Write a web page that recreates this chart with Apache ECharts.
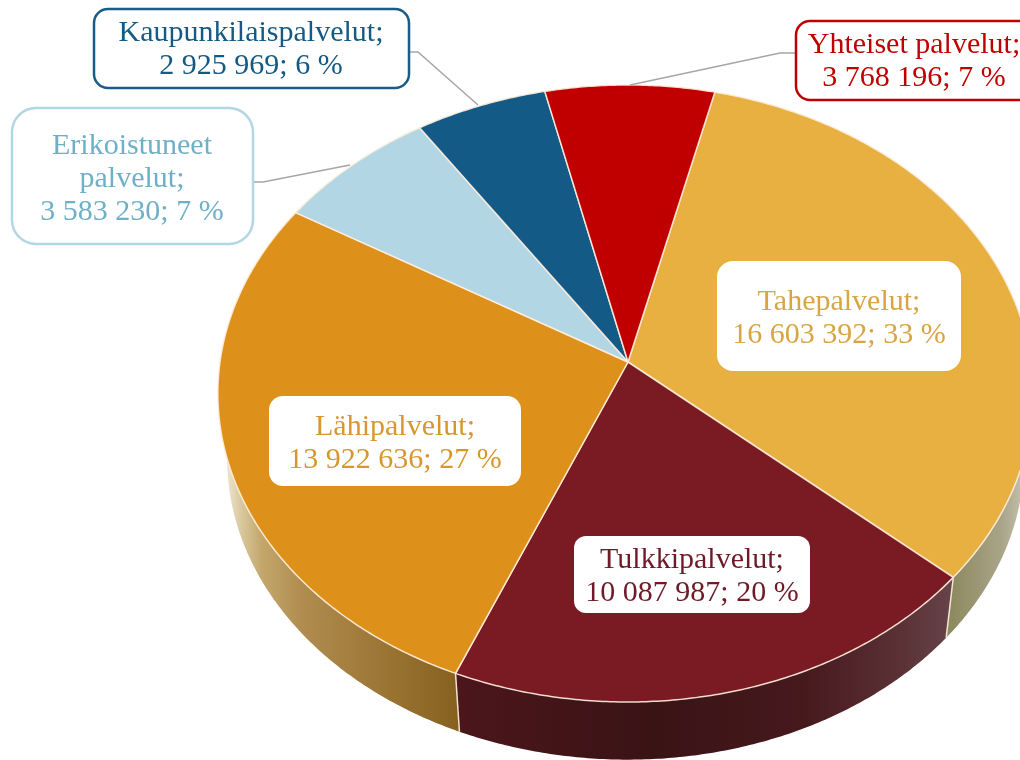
<!DOCTYPE html>
<html><head><meta charset="utf-8">
<style>html,body{margin:0;padding:0;background:#fff}#c{width:1020px;height:760px}</style>
<script src="https://cdn.jsdelivr.net/npm/echarts@6/dist/echarts.min.js"></script>
</head><body><div id="c"></div>
<script>
const categories = ['Tahepalvelut','Tulkkipalvelut','Lähipalvelut','Erikoistuneet\npalvelut','Kaupunkilaispalvelut','Yhteiset palvelut'];
const seriesValues = [16603392,10087987,13922636,3583230,2925969,3768196];
const percents = [33,20,27,7,6,7];

const faceColors = ['#E8B040','#7A1A22','#DE911A','#B3D6E5','#145A86','#C00000'];
const textColors = ['#D9A544','#6E1A28','#D8972C','#6FB0C8','#145A82','#C00000'];
const sideStops = [
  [[0,'#8e8a60'],[0.75,'#8e8a60'],[0.9,'#a8a488'],[1,'#d0ccbc']],
  [[0,'#4b161c'],[0.4,'#3a1315'],[0.7,'#46191d'],[0.9,'#5c3236'],[1,'#65444a']],
  [[0,'#f0e8d4'],[0.03,'#f0e8d4'],[0.10,'#d8c69c'],[0.18,'#c4a76c'],[0.35,'#b08c50'],[0.75,'#96712f'],[1,'#85601f']],
  [[0,'#b3d6e5'],[1,'#b3d6e5']],[[0,'#145a86'],[1,'#145a86']],[[0,'#c00000'],[1,'#c00000']]
];
// label layout: box x, y, w, h, radius, border color, text centre, leader line
const boxes = [
  {x:717,y:261,w:244,h:110,r:16,cx:839,cy:319},
  {x:574,y:536,w:236,h:77,r:12,cx:692,cy:577},
  {x:269,y:396,w:252,h:90,r:14,cx:395,cy:444},
  {x:12,y:108,w:241,h:136,r:24,border:'#B3D6E5',cx:132,cy:179,leader:[[254,182],[263,182],[350,165]]},
  {x:94,y:9,w:315,h:79,r:14,border:'#1A5C85',cx:251,cy:50,leader:[[410,52],[418,52],[478,105]]},
  {x:796,y:21,w:240,h:79,r:14,border:'#C00000',cx:914,cy:62,leader:[[795,53],[780,53],[630,85]]}
];

const CX=628, CY=362, A=305.3, B_LEFT=408, B_RIGHT=403, K=0.102, START=13.7;
const VPX=632, VPY=3300, SHRINK=0.0222;
const total = seriesValues.reduce((a,b)=>a+b,0);
const SEAM='rgba(255,238,222,0.9)';

function proj(deg){
  const a=deg*Math.PI/180, u=Math.sin(a), v=-Math.cos(a), d=1-K*v;
  return [CX+(u>0?B_RIGHT:B_LEFT)*u/d, CY+A*v/d];
}
function lower(p){ return [p[0]+(VPX-p[0])*SHRINK, p[1]+(VPY-p[1])*SHRINK]; }
function fmt(n){ return String(n).replace(/\B(?=(\d{3})+$)/g,'\u00a0'); }

function renderItem(params, api){
  const i=params.dataIndex, val=api.value(0);
  let before=0; for(let j=0;j<i;j++) before+=seriesValues[j];
  const a0=START+before/total*360, a1=a0+val/total*360;
  const top=[]; const n=Math.ceil(a1-a0)*2;
  for(let s=0;s<=n;s++) top.push(proj(a0+(a1-a0)*s/n));
  const bottom=top.map(lower).reverse();
  const b=boxes[i];
  const children=[
    {type:'polygon',z2:1,shape:{points:top.concat(bottom)},
     style:{fill:{type:'linear',x:0,y:0,x2:1,y2:0,colorStops:sideStops[i].map(s=>({offset:s[0],color:s[1]}))}}},
    {type:'polyline',z2:2,shape:{points:[top[0],lower(top[0])]},style:{stroke:SEAM,lineWidth:1.5,fill:null}},
    {type:'polygon',z2:3,shape:{points:[[CX,CY]].concat(top)},
     style:{fill:faceColors[i],stroke:SEAM,lineWidth:1.5,lineJoin:'round'}},
  ];
  if(b.leader) children.push({type:'polyline',z2:4,shape:{points:b.leader},style:{stroke:'#A6A6A6',lineWidth:1.5,fill:null}});
  children.push({type:'rect',z2:5,shape:{x:b.x,y:b.y,width:b.w,height:b.h,r:b.r},
    style:b.border?{fill:'#fff',stroke:b.border,lineWidth:2.5}:{fill:'#fff'}});
  children.push({type:'text',z2:6,style:{
    text:categories[i]+';\n'+fmt(val)+'; '+percents[i]+' %',
    x:b.cx,y:b.cy,align:'center',verticalAlign:'middle',
    fontFamily:'"Liberation Serif"',fontSize:30,lineHeight:33,fill:textColors[i]}});
  return {type:'group',children};
}

const chart=echarts.init(document.getElementById('c'));
chart.setOption({
  animation:false,backgroundColor:'#fff',
  series:[{type:'custom',coordinateSystem:'none',renderItem,silent:true,
    data:seriesValues.map((v,i)=>({name:categories[i],value:[v]}))}]
});
</script></body></html>
